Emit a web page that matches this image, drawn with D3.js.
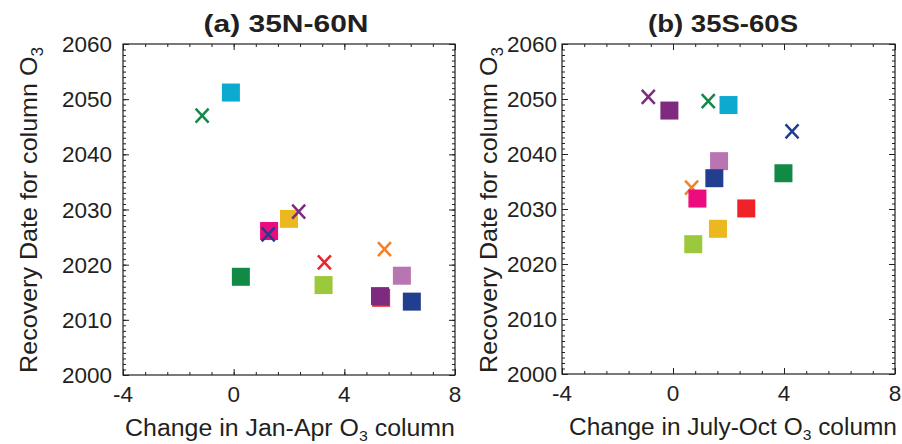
<!DOCTYPE html>
<html><head><meta charset="utf-8">
<script src="https://cdn.jsdelivr.net/npm/d3@7"></script>
<style>
html,body{margin:0;padding:0;background:#fff;}
text{font-family:"Liberation Sans",Arial,Helvetica,sans-serif;fill:#231F20;}
</style></head>
<body>
<svg id="c" width="902" height="444"></svg>
<script>
// ---- data ----
const xTicks = [-4, 0, 4, 8];
const yTicks = [2000, 2010, 2020, 2030, 2040, 2050, 2060];

// Panel (a) 35N-60N, drawing order
const aX      = [-0.10, 0.26, 1.28, 2.00, 3.25, 5.33, 5.29, 6.08, 6.44, -1.14, 1.25, 2.35, 3.28, 5.45];
const aY      = [2051.2, 2017.8, 2026.1, 2028.3, 2016.3, 2014.0, 2014.3, 2018.0, 2013.3, 2047.0, 2025.5, 2029.6, 2020.4, 2022.8];
const aMarker = ["s","s","s","s","s","s","s","s","s","x","x","x","x","x"];
const aColor  = ["cyan","dkgreen","pink","yellow","lime","red","purple","orchid","navy","green","navy","purple","red","orange"];

// Panel (b) 35S-60S, drawing order
const bX      = [-0.89, 1.27, 4.29, 0.67, -0.13, 2.00, 1.66, 3.98, 1.49, 0.88, 2.64, 1.62, 0.73];
const bY      = [2050.4, 2049.6, 2044.1, 2033.9, 2047.9, 2048.9, 2038.7, 2036.5, 2035.6, 2031.9, 2030.1, 2026.4, 2023.6];
const bMarker = ["x","x","x","x","s","s","s","s","s","s","s","s","s"];
const bColor  = ["purple","green","navy","orange","purple","cyan","orchid","dkgreen","navy","pink","red","yellow","lime"];

const palette = {cyan:"#0DAACF", dkgreen:"#118A45", green:"#12894A", pink:"#EC0C7E", yellow:"#EBB81F",
  lime:"#9CC93B", red:"#EE2227", purple:"#7E2A7E", orchid:"#B975B1", navy:"#223F8F", orange:"#F2812A"};

const svg = d3.select("#c");

// stretch a text horizontally (in its own frame) to a target width, centred at 0
function fit(sel, w){
  const bb = sel.node().getBBox();
  const k = w / bb.width;
  sel.attr("transform", `${sel.attr("data-base")} scale(${k},1)`);
}

function panel(cfg){
  const x = d3.scaleLinear().domain([-4, 8]).range([cfg.l, cfg.r]);
  const y = d3.scaleLinear().domain([2000, 2060]).range([cfg.b, cfg.t]);
  const g = svg.append("g");
  const minorX = d3.range(-4, 8.0001, 0.8);
  const minorY = d3.range(2000, 2061, 1);
  const ax = (axisFn, sc, vals, size, tr) => {
    const a = g.append("g").attr("transform", tr)
      .call(axisFn(sc).tickValues(vals).tickSize(size).tickFormat(""));
    a.select(".domain").remove();
    a.selectAll("line").attr("stroke","#231F20").attr("stroke-width",1);
  };
  ax(d3.axisBottom, x, minorX, -3, `translate(0,${cfg.b})`);
  ax(d3.axisBottom, x, xTicks, -6, `translate(0,${cfg.b})`);
  ax(d3.axisTop, x, minorX, -3, `translate(0,${cfg.t})`);
  ax(d3.axisTop, x, xTicks, -6, `translate(0,${cfg.t})`);
  ax(d3.axisLeft, y, minorY, -3, `translate(${cfg.l},0)`);
  ax(d3.axisLeft, y, yTicks, -6, `translate(${cfg.l},0)`);
  ax(d3.axisRight, y, minorY, -3, `translate(${cfg.r},0)`);
  ax(d3.axisRight, y, yTicks, -6, `translate(${cfg.r},0)`);
  g.append("rect").attr("x",cfg.l).attr("y",cfg.t).attr("width",cfg.r-cfg.l).attr("height",cfg.b-cfg.t)
    .attr("fill","none").attr("stroke","#231F20").attr("stroke-width",1.2);

  // tick labels
  g.selectAll(".xl").data(xTicks).join("text")
    .attr("x", d => x(d)).attr("y", cfg.b + 27).attr("text-anchor","middle")
    .attr("font-size", 22.5).text(d => d);
  g.selectAll(".yl").data(yTicks).join("text")
    .attr("x", cfg.l - cfg.ylGap).attr("y", d => y(d) + 8).attr("text-anchor","end")
    .attr("font-size", 22.5).text(d => d);

  // title
  const tt = g.append("text").attr("data-base", `translate(${cfg.titleX},32)`)
    .attr("transform", `translate(${cfg.titleX},32)`).attr("text-anchor","middle")
    .attr("font-size", 24).attr("font-weight","bold").text(cfg.title);
  fit(tt, cfg.titleW);

  // x axis title
  const xt = g.append("text").attr("data-base", `translate(${cfg.xtX},${cfg.xtY})`)
    .attr("transform", `translate(${cfg.xtX},${cfg.xtY})`).attr("text-anchor","middle").attr("font-size", 23.5);
  xt.append("tspan").text(cfg.xt1);
  xt.append("tspan").attr("font-size",15).attr("dy",5).text("3");
  xt.append("tspan").attr("dy",-5).text(" column");
  fit(xt, cfg.xtW);

  // y axis title
  const yt = g.append("text").attr("data-base", `translate(${cfg.ytX},${cfg.ytC}) rotate(-90)`)
    .attr("transform", `translate(${cfg.ytX},${cfg.ytC}) rotate(-90)`)
    .attr("text-anchor","middle").attr("font-size", 23.5);
  yt.append("tspan").text("Recovery Date for column O");
  yt.append("tspan").attr("font-size",16).attr("dy",6).text("3");
  fit(yt, 326);

  // points
  const pts = cfg.xs.map((v,i) => ({x:v, y:cfg.ys[i], m:cfg.ms[i], c:palette[cfg.cs[i]]}));
  const s = 18, h = 6.5;
  pts.forEach(p => {
    const cx = x(p.x), cy = y(p.y);
    if (p.m === "s") {
      g.append("rect").attr("x", cx-s/2).attr("y", cy-s/2).attr("width", s).attr("height", s).attr("fill", p.c);
    } else {
      g.append("path").attr("d", `M${cx-h},${cy-h-0.5}L${cx+h},${cy+h+0.5}M${cx+h},${cy-h-0.5}L${cx-h},${cy+h+0.5}`)
        .attr("stroke", p.c).attr("stroke-width", 2.5).attr("fill","none");
    }
  });
}

panel({l:123, r:455, t:44, b:375, ylGap:11, title:"(a) 35N-60N", titleX:286, titleW:165,
  xtX:290, xtW:330, xtY:435.5, xt1:"Change in Jan-Apr O", ytX:37, ytC:210,
  xs:aX, ys:aY, ms:aMarker, cs:aColor});
panel({l:562, r:895, t:44, b:374, ylGap:5, title:"(b) 35S-60S", titleX:723, titleW:150,
  xtX:733, xtW:328, xtY:434.5, xt1:"Change in July-Oct O", ytX:497, ytC:210,
  xs:bX, ys:bY, ms:bMarker, cs:bColor});
</script>
</body></html>
